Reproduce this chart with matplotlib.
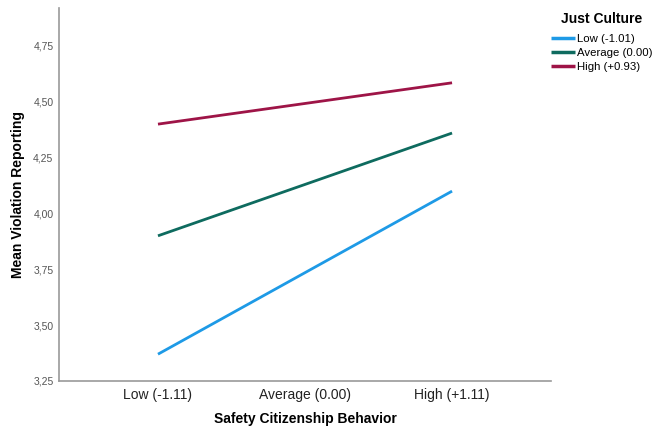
import matplotlib
matplotlib.use("Agg")
import matplotlib.pyplot as plt

# data
x_labels = ['Low (-1.11)', 'Average (0.00)', 'High (+1.11)']
low_jc = [3.37, 4.10]
avg_jc = [3.90, 4.36]
high_jc = [4.40, 4.585]
series_names = ['Low (-1.01)', 'Average (0.00)', 'High (+0.93)']
y_ticks = [3.25, 3.50, 3.75, 4.00, 4.25, 4.50, 4.75]
y_tick_labels = ['3,25', '3,50', '3,75', '4,00', '4,25', '4,50', '4,75']

plt.rcParams['font.family'] = ['Liberation Sans', 'DejaVu Sans']

fig = plt.figure(figsize=(6.53, 4.29), dpi=100)
ax = fig.add_axes([0.0904, 0.1119, 0.7534, 0.8695])

colors = ['#1e9ae6', '#0e6b5f', '#9e1447']
ends = [0, 2]
for vals, name, c in zip([low_jc, avg_jc, high_jc], series_names, colors):
    ax.plot(ends, vals, color=c, linewidth=2.0, label=name, solid_capstyle='butt')

ax.set_xlim(-0.673, 2.673)
ax.set_ylim(3.25, 4.92)
ax.set_xticks(range(len(x_labels)))
ax.set_xticklabels(x_labels, fontsize=10, color='#222222')
ax.set_yticks(y_ticks)
ax.set_yticklabels(y_tick_labels, fontsize=7.5, color='#555555')
ax.tick_params(length=0)
ax.tick_params(axis='x', pad=5)
ax.tick_params(axis='y', pad=4)

for s in ['top', 'right']:
    ax.spines[s].set_visible(False)
for s in ['left', 'bottom']:
    ax.spines[s].set_color('#999999')
    ax.spines[s].set_linewidth(1.2)

ax.set_xlabel('Safety Citizenship Behavior', fontsize=10, fontweight='bold', labelpad=7)
ax.set_ylabel('Mean Violation Reporting', fontsize=10, fontweight='bold', labelpad=6)

# legend title drawn separately to get the gap of the reference
fig.text(602 / 653, 1 - 19 / 429, 'Just Culture', fontsize=10, fontweight='bold',
         ha='center', va='center')
leg = fig.legend(loc='upper left', bbox_to_anchor=(551 / 653, 1 - 34 / 429), frameon=False,
                 fontsize=8.2, handlelength=2.1, handletextpad=0.15,
                 labelspacing=0.33, borderaxespad=0, borderpad=0)
for line in leg.get_lines():
    line.set_linewidth(2.5)

plt.savefig('out.png', dpi=100)
